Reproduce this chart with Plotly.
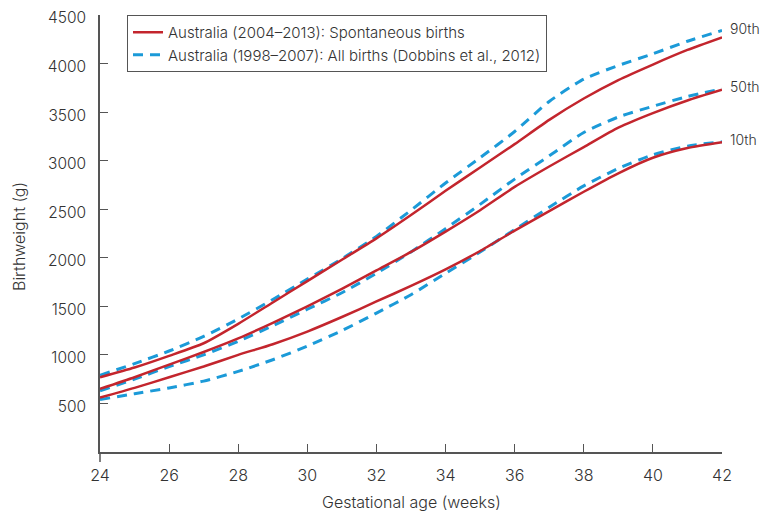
import plotly.graph_objects as go

weeks = list(range(24, 43))

red_90 = [770, 870, 990, 1120, 1320, 1540, 1760, 1980, 2200, 2440, 2690, 2930, 3170, 3420, 3640, 3830, 3990, 4140, 4270]
blue_90 = [790, 910, 1040, 1190, 1370, 1570, 1780, 1990, 2220, 2490, 2770, 3030, 3300, 3610, 3840, 3980, 4100, 4230, 4340]
red_50 = [650, 770, 900, 1030, 1170, 1330, 1500, 1680, 1870, 2060, 2270, 2490, 2730, 2940, 3140, 3340, 3490, 3620, 3730]
blue_50 = [630, 750, 880, 1000, 1140, 1300, 1470, 1640, 1840, 2060, 2300, 2550, 2810, 3050, 3290, 3450, 3560, 3660, 3740]
red_10 = [560, 660, 770, 880, 1000, 1110, 1240, 1390, 1550, 1710, 1880, 2070, 2280, 2480, 2680, 2870, 3030, 3130, 3190]
blue_10 = [540, 600, 660, 730, 830, 950, 1090, 1250, 1430, 1620, 1840, 2060, 2290, 2520, 2740, 2920, 3060, 3150, 3195]

series_names = ["Australia (2004–2013): Spontaneous births",
                "Australia (1998–2007): All births (Dobbins et al., 2012)"]
pct_labels = ["90th", "50th", "10th"]
y_ticks = [0, 500, 1000, 1500, 2000, 2500, 3000, 3500, 4000, 4500]
y_ticktext = ["", "500", "1000", "1500", "2000", "2500", "3000", "3500", "4000", "4500"]
x_ticks = [24, 26, 28, 30, 32, 34, 36, 38, 40, 42]
x_title = "Gestational age (weeks)"
y_title = "Birthweight (g)"

RED = "#c3252d"
BLUE = "#1b9ad8"
FONT = "Inter"
WEIGHT = 300
TXT = "#333333"
AX = "#555555"

# the page body has an 8px margin, so the figure is sized/offset to compensate
OFF = 8
W, H = 768 - OFF, 514 - OFF
L, R, T = 100 - OFF, 46, 15 - OFF
PH = 437
B = H - T - PH
PW = W - L - R

fig = go.Figure()
reds = [red_90, red_50, red_10]
blues = [blue_90, blue_50, blue_10]
for i, b in enumerate(blues):
    fig.add_trace(go.Scatter(x=weeks, y=b, mode="lines",
                             line=dict(color=BLUE, width=3, dash="10px,7px", shape="spline", smoothing=0.6),
                             name=series_names[1], legendgroup="b", showlegend=(i == 0), legendrank=2))
for i, r in enumerate(reds):
    fig.add_trace(go.Scatter(x=weeks, y=r, mode="lines",
                             line=dict(color=RED, width=2.5, shape="spline", smoothing=0.6),
                             name=series_names[0], legendgroup="r", showlegend=(i == 0), legendrank=1))

for lab, b in zip(pct_labels, blues):
    fig.add_annotation(x=42, y=b[-1] + 20, xref="x", yref="y", text=lab, showarrow=False,
                       xanchor="left", yanchor="middle", xshift=7, borderpad=0,
                       font=dict(family=FONT, size=14, color=TXT, weight=WEIGHT))

# axis titles
fig.add_annotation(x=0.5, y=-(502 - 452) / PH, xref="paper", yref="paper", text=x_title,
                   showarrow=False, xanchor="center", yanchor="middle",
                   font=dict(family=FONT, size=16, color=TXT, weight=WEIGHT))
fig.add_annotation(x=-(100 - 19) / PW, y=(452 - 237) / PH, xref="paper", yref="paper", text=y_title,
                   showarrow=False, xanchor="center", yanchor="middle", textangle=-90,
                   font=dict(family=FONT, size=16, color=TXT, weight=WEIGHT))

# y-axis extension below the x-axis
fig.add_shape(type="line", xref="paper", yref="paper", x0=0, x1=0, y0=0, y1=-10 / PH,
              line=dict(color=AX, width=1.5))

fig.update_layout(
    width=W, height=H,
    margin=dict(l=L, r=R, t=T, b=B, autoexpand=False),
    paper_bgcolor="white", plot_bgcolor="white",
    font=dict(family=FONT, size=16, color=TXT, weight=WEIGHT),
    legend=dict(x=27 / PW, y=1, xanchor="left", yanchor="top",
                bordercolor=AX, borderwidth=1, bgcolor="white",
                font=dict(family=FONT, size=15, color=TXT, weight=WEIGHT),
                itemwidth=30, tracegroupgap=0, traceorder="normal"),
    xaxis=dict(range=[24, 42], tickvals=x_ticks, ticks="inside", ticklen=8, tickcolor=AX,
               showline=True, linecolor=AX, linewidth=1.5, showgrid=False, zeroline=False,
               automargin=False, ticklabelstandoff=8, ticklabeloverflow="allow",
               tickfont=dict(size=16, weight=WEIGHT)),
    yaxis=dict(range=[0, 4500], tickvals=y_ticks, ticktext=y_ticktext, ticks="inside", ticklen=8,
               tickcolor=AX, showline=True, linecolor=AX, linewidth=1.5,
               showgrid=False, zeroline=False, automargin=False, ticklabelstandoff=9,
               ticklabelshift=3, ticklabeloverflow="allow", tickfont=dict(size=15.5, weight=WEIGHT)),
)

fig.write_html("out.html")
